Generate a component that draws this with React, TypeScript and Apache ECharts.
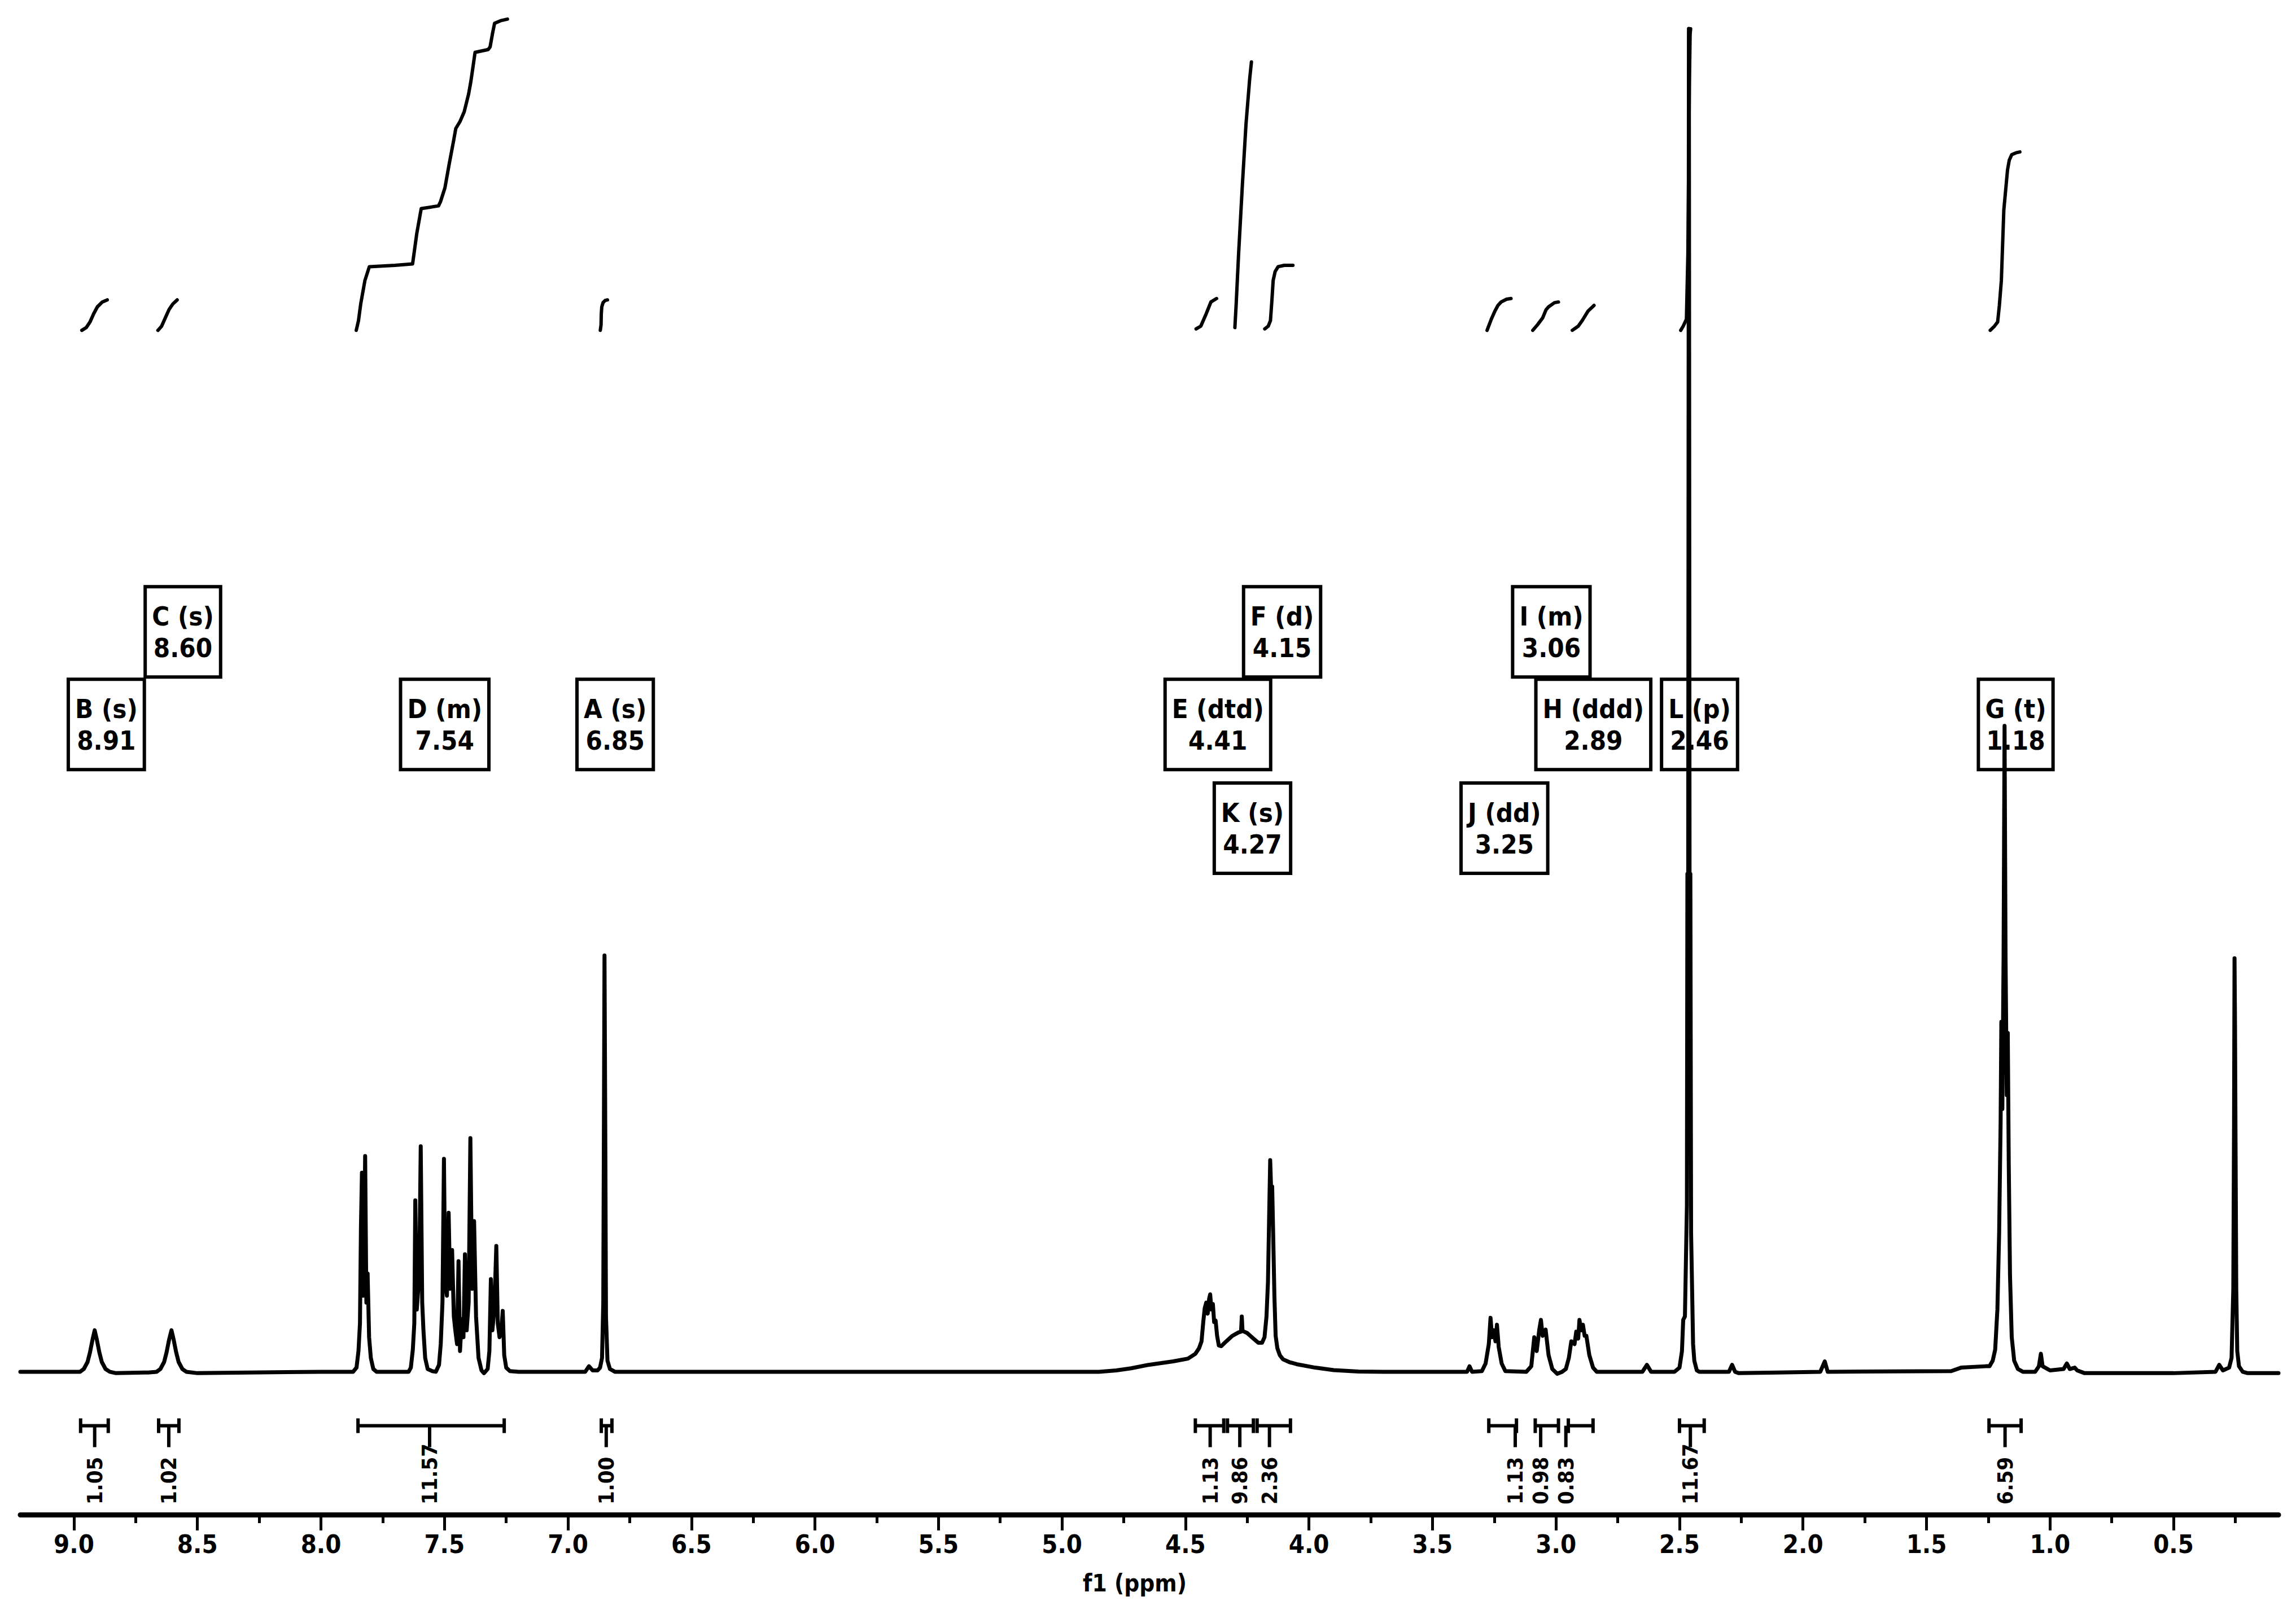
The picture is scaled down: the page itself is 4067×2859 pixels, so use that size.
import React, { useEffect, useRef } from 'react';
import * as echarts from 'echarts';

// ---------- axis ticks (ppm) ----------
const majorTicks = [9.0, 8.5, 8.0, 7.5, 7.0, 6.5, 6.0, 5.5, 5.0, 4.5, 4.0, 3.5, 3.0, 2.5, 2.0, 1.5, 1.0, 0.5];
const minorTicks = [8.75, 8.25, 7.75, 7.25, 6.75, 6.25, 5.75, 5.25, 4.75, 4.25, 3.75, 3.25, 2.75, 2.25, 1.75, 1.25, 0.75, 0.25];

// ---------- spectrum segments [ppm, intensity] ----------
const specLeft = [[9.217, 0], [9.0, 0]];
const specB = [[8.975, 0], [8.96, 0.2], [8.945, 0.7], [8.935, 1.4], [8.925, 2.3], [8.916, 3.0], [8.907, 2.3], [8.897, 1.4], [8.887, 0.7], [8.872, 0.2], [8.855, 0], [8.83, -0.1], [8.7, -0.05]];
const specC = [[8.665, 0], [8.65, 0.2], [8.635, 0.7], [8.625, 1.4], [8.615, 2.3], [8.605, 3.0], [8.596, 2.3], [8.586, 1.4], [8.576, 0.7], [8.561, 0.2], [8.545, 0], [8.5, -0.1], [8.0, 0], [7.88, 0]];
const specD1 = [[7.87, 0], [7.856, 0.3], [7.848, 1.5], [7.842, 3.5], [7.838, 10.5], [7.834, 14.4], [7.829, 5.5], [7.824, 11.0], [7.821, 15.6], [7.816, 5.0], [7.811, 7.1], [7.805, 2.5], [7.798, 1.0], [7.788, 0.2], [7.775, 0], [7.66, 0]];
const specD2 = [[7.645, 0], [7.636, 0.3], [7.628, 1.6], [7.622, 3.5], [7.618, 12.4], [7.612, 4.5], [7.606, 6.0], [7.6, 10.0], [7.596, 16.3], [7.59, 5.0], [7.585, 3.0], [7.578, 1.0], [7.568, 0.2], [7.55, 0.05], [7.535, 0]];
const specD3 = [[7.522, 0.5], [7.515, 2.0], [7.508, 5.0], [7.502, 15.4], [7.497, 6.5], [7.49, 5.5], [7.483, 11.5], [7.477, 6.0], [7.469, 8.8], [7.462, 4.0], [7.456, 3.0], [7.449, 2.0], [7.443, 8.0], [7.437, 1.5], [7.43, 3.8], [7.423, 2.5], [7.417, 8.5], [7.41, 3.0], [7.402, 5.0], [7.395, 16.9], [7.388, 6.0], [7.38, 10.9], [7.372, 4.0], [7.362, 1.0], [7.35, 0.1], [7.34, -0.1]];
const specD4 = [[7.325, 0.2], [7.318, 1.5], [7.312, 6.7], [7.306, 3.0], [7.298, 4.5], [7.29, 9.1], [7.284, 3.5], [7.277, 2.5], [7.27, 3.0], [7.264, 4.4], [7.258, 1.2], [7.25, 0.3], [7.235, 0.05], [7.2, 0], [6.93, 0], [6.915, 0.4], [6.9, 0.1], [6.88, 0.1]];
const specA = [[6.87, 0.3], [6.862, 1.0], [6.857, 5.0], [6.854, 20.0], [6.852, 30.1], [6.849, 18.0], [6.846, 4.0], [6.84, 0.8], [6.83, 0.2], [6.81, 0], [4.85, 0]];
const specEKF = [[4.78, 0.1], [4.72, 0.25], [4.65, 0.5], [4.55, 0.75], [4.49, 0.95], [4.46, 1.3], [4.445, 1.7], [4.435, 2.2], [4.428, 3.6], [4.422, 4.6], [4.416, 5.0], [4.41, 4.2], [4.404, 5.3], [4.4, 5.6], [4.395, 4.5], [4.389, 4.9], [4.384, 3.6], [4.378, 3.7], [4.372, 2.6], [4.365, 1.9], [4.355, 1.85], [4.335, 2.2], [4.31, 2.6], [4.285, 2.85], [4.275, 2.9], [4.272, 4.0], [4.269, 2.95], [4.25, 2.8], [4.225, 2.4], [4.205, 2.1], [4.19, 2.1], [4.18, 2.5], [4.172, 4.0], [4.166, 6.5], [4.16, 12.5], [4.157, 15.3], [4.153, 13.0], [4.149, 13.4], [4.145, 10.0], [4.14, 5.5], [4.135, 2.6], [4.128, 1.7], [4.118, 1.2], [4.105, 0.9], [4.08, 0.7], [4.05, 0.55], [3.975, 0.3], [3.9, 0.12], [3.8, 0.02], [3.7, 0]];
const specJIH = [[3.36, 0], [3.35, 0.4], [3.34, 0], [3.3, 0.05], [3.285, 0.6], [3.272, 2.0], [3.265, 3.9], [3.259, 2.5], [3.252, 3.0], [3.245, 2.2], [3.239, 3.4], [3.232, 1.8], [3.22, 0.6], [3.205, 0.05], [3.12, 0], [3.1, 0.4], [3.088, 2.5], [3.078, 1.5], [3.068, 3.0], [3.061, 3.75], [3.054, 2.6], [3.042, 3.05], [3.03, 1.2], [3.015, 0.2], [2.995, -0.15], [2.975, 0], [2.96, 0.2], [2.948, 1.0], [2.938, 2.2], [2.925, 2.0], [2.918, 2.9], [2.91, 2.4], [2.905, 3.75], [2.898, 3.0], [2.891, 3.4], [2.884, 2.6], [2.877, 2.6], [2.865, 1.2], [2.85, 0.3], [2.835, 0], [2.65, 0], [2.632, 0.5], [2.615, 0], [2.53, 0]];
const specL = [[2.52, 0], [2.5, 0.3], [2.49, 1.5], [2.485, 3.75], [2.478, 4.0], [2.474, 8.0], [2.47, 12.0], [2.468, 36.0], [2.465, 30.0], [2.462, 97.1], [2.459, 30.0], [2.456, 36.0], [2.453, 10.0], [2.449, 6.0], [2.445, 2.0], [2.44, 0.8], [2.43, 0.1], [2.42, 0], [2.3, 0], [2.287, 0.5], [2.275, 0], [2.26, -0.1], [2.1, -0.05], [1.93, 0], [1.912, 0.75], [1.9, 0], [1.4, 0.05], [1.36, 0.3], [1.26, 0.4]];
const specG = [[1.245, 0.4], [1.232, 0.8], [1.222, 1.6], [1.213, 4.5], [1.206, 10.0], [1.2, 18.0], [1.197, 25.3], [1.193, 19.0], [1.188, 30.0], [1.184, 46.7], [1.18, 30.0], [1.175, 20.0], [1.171, 24.5], [1.167, 15.0], [1.162, 7.0], [1.155, 2.5], [1.145, 0.8], [1.13, 0.2], [1.11, 0], [1.06, 0], [1.045, 0.4], [1.037, 1.3], [1.03, 0.4], [1.0, 0.1], [0.945, 0.2], [0.932, 0.6], [0.92, 0.2], [0.9, 0.3], [0.89, 0.1], [0.86, -0.1], [0.5, -0.1], [0.33, 0], [0.315, 0.5], [0.3, 0.1], [0.275, 0.3]];
const specTMS = [[0.265, 1.0], [0.258, 6.0], [0.255, 18.0], [0.253, 29.9], [0.251, 25.0], [0.249, 17.0], [0.246, 6.0], [0.242, 1.5], [0.235, 0.4], [0.22, 0], [0.2, -0.1], [0.075, -0.1]];

// ---------- integral curves [ppm, level] ----------
const intB = [[8.968, 75.3], [8.95, 75.5], [8.935, 75.9], [8.92, 76.5], [8.905, 77.0], [8.885, 77.35], [8.865, 77.5]];
const intC = [[8.66, 75.3], [8.645, 75.6], [8.63, 76.2], [8.615, 76.8], [8.6, 77.2], [8.582, 77.5]];
const intD = [[7.857, 75.3], [7.848, 76.0], [7.839, 77.2], [7.822, 78.9], [7.804, 79.9], [7.7, 80.0], [7.629, 80.1], [7.622, 81.0], [7.612, 82.3], [7.594, 84.1], [7.524, 84.3], [7.516, 84.6], [7.498, 85.6], [7.481, 87.3], [7.463, 89.0], [7.454, 89.9], [7.437, 90.4], [7.42, 91.1], [7.402, 92.4], [7.393, 93.3], [7.384, 94.4], [7.376, 95.4], [7.323, 95.6], [7.315, 95.8], [7.305, 96.8], [7.297, 97.5], [7.27, 97.7], [7.245, 97.8]];
const intA = [[6.869, 75.3], [6.866, 75.7], [6.865, 76.5], [6.863, 77.0], [6.858, 77.3], [6.85, 77.45], [6.84, 77.5]];
const intE = [[4.457, 75.4], [4.438, 75.6], [4.416, 76.5], [4.397, 77.35], [4.374, 77.6]];
const intK = [[4.3, 75.5], [4.295, 77.1], [4.285, 80.8], [4.27, 85.7], [4.255, 90.2], [4.24, 93.5], [4.233, 94.7]];
const intF = [[4.179, 75.4], [4.165, 75.6], [4.156, 76.0], [4.15, 77.5], [4.145, 78.9], [4.137, 79.55], [4.125, 79.9], [4.1, 80.0], [4.065, 80.0]];
const intJ = [[3.279, 75.3], [3.262, 76.1], [3.247, 76.7], [3.235, 77.1], [3.222, 77.35], [3.2, 77.55], [3.182, 77.6]];
const intI = [[3.094, 75.3], [3.075, 75.7], [3.054, 76.2], [3.04, 76.8], [3.03, 77.0], [3.006, 77.3], [2.99, 77.35]];
const intH = [[2.934, 75.3], [2.91, 75.6], [2.894, 76.0], [2.87, 76.7], [2.846, 77.1]];
const intL = [[2.495, 75.3], [2.485, 75.6], [2.472, 76.1], [2.466, 80.8], [2.463, 86.9], [2.46, 93.1], [2.457, 96.7], [2.455, 97.1]];
const intG = [[1.242, 75.3], [1.225, 75.6], [1.212, 75.9], [1.205, 77.1], [1.197, 78.9], [1.187, 84.0], [1.172, 86.9], [1.165, 87.6], [1.155, 88.0], [1.135, 88.15], [1.122, 88.2]];

// ---------- integration brackets: [from ppm, to ppm, label ppm] ----------
const integralRanges = [
  [8.973, 8.861, 8.916], [8.657, 8.575, 8.616], [7.85, 7.258, 7.56], [6.865, 6.822, 6.845],
  [4.46, 4.345, 4.4], [4.33, 4.225, 4.28], [4.21, 4.075, 4.16],
  [3.272, 3.16, 3.165], [3.084, 2.99, 3.062], [2.95, 2.85, 2.96],
  [2.5, 2.4, 2.456], [1.247, 1.117, 1.182],
];
const integralValues = ['1.05', '1.02', '11.57', '1.00', '1.13', '9.86', '2.36', '1.13', '0.98', '0.83', '11.67', '6.59'];

// ---------- multiplet labels ----------
const labelNames = ['B', 'C', 'D', 'A', 'E', 'F', 'K', 'J', 'I', 'H', 'L', 'G'];
const labelMult = ['s', 's', 'm', 's', 'dtd', 'd', 's', 'dd', 'm', 'ddd', 'p', 't'];
const labelShift = [8.91, 8.6, 7.54, 6.85, 4.41, 4.15, 4.27, 3.25, 3.06, 2.89, 2.46, 1.18];
// layout only: which row each label box sits in
const labelRow = [1, 0, 1, 1, 1, 0, 2, 2, 0, 1, 1, 1];
const ROW_Y = [53.5, 46.8, 39.3];

const FONT = '"DejaVu Sans Condensed", "Liberation Sans Narrow", "DejaVu Sans", sans-serif';
const BRACKET_Y = -3.9;
const INT_LABEL_Y = -9.6;

const spectrum = [...specLeft, ...specB, ...specC, ...specD1, ...specD2, ...specD3, ...specD4, ...specA, ...specEKF, ...specJIH, ...specL, ...specG, ...specTMS];
const integrals = [intB, intC, intD, intA, intE, intK, intF, intJ, intI, intH, intL, intG];

function buildOption() {
  const series: any[] = [];
  series.push({
    type: 'custom',
    z: 1,
    silent: true,
    data: labelShift.map((v) => [v]),
    renderItem: (params: any, api: any) => {
      const i = params.dataIndex;
      const p = api.coord([api.value(0), ROW_Y[labelRow[i]]]);
      return {
        type: 'text',
        x: p[0] + 18,
        y: p[1],
        style: {
          text: `${labelNames[i]} (${labelMult[i]})\n${labelShift[i].toFixed(2)}`,
          font: `bold 47px ${FONT}`,
          fill: '#000',
          align: 'center',
          verticalAlign: 'middle',
          lineHeight: 56,
          padding: [24, 12, 24, 12],
          borderColor: '#000',
          borderWidth: 6,
        },
      };
    },
  });
  integrals.forEach((curve) => {
    series.push({
      type: 'line',
      z: 2,
      silent: true,
      data: curve,
      showSymbol: false,
      symbol: 'none',
      lineStyle: { color: '#000', width: 6, join: 'round', cap: 'round' },
    });
  });
  series.push({
    type: 'custom',
    z: 2,
    silent: true,
    data: integralRanges,
    renderItem: (params: any, api: any) => {
      const s = api.coord([api.value(0), BRACKET_Y]);
      const e = api.coord([api.value(1), BRACKET_Y]);
      const m = api.coord([api.value(2), BRACKET_Y]);
      const lb = api.coord([api.value(2), INT_LABEL_Y]);
      const y = s[1];
      const ls = { stroke: '#000', lineWidth: 6 };
      return {
        type: 'group',
        children: [
          { type: 'line', shape: { x1: s[0], y1: y, x2: e[0], y2: y }, style: ls },
          { type: 'line', shape: { x1: s[0], y1: y - 13, x2: s[0], y2: y + 13 }, style: ls },
          { type: 'line', shape: { x1: e[0], y1: y - 13, x2: e[0], y2: y + 13 }, style: ls },
          { type: 'line', shape: { x1: m[0], y1: y, x2: m[0], y2: y + 38 }, style: ls },
          {
            type: 'text',
            x: lb[0],
            y: lb[1],
            rotation: Math.PI / 2,
            style: {
              text: integralValues[params.dataIndex],
              font: `bold 38px ${FONT}`,
              fill: '#000',
              align: 'left',
              verticalAlign: 'middle',
            },
          },
        ],
      };
    },
  });
  series.push({
    type: 'line',
    z: 3,
    silent: true,
    data: spectrum,
    showSymbol: false,
    symbol: 'none',
    lineStyle: { color: '#000', width: 7, join: 'round', cap: 'round' },
  });

  return {
    animation: false,
    backgroundColor: '#fff',
    grid: { left: 36, right: 31, top: 4.5, bottom: 176 },
    xAxis: [
      {
        type: 'value',
        min: 0.075,
        max: 9.217,
        inverse: true,
        position: 'bottom',
        axisLine: { show: true, onZero: false, lineStyle: { color: '#000', width: 9 } },
        axisTick: { show: true, customValues: majorTicks, length: 28, lineStyle: { color: '#000', width: 5 } },
        axisLabel: {
          show: true,
          customValues: majorTicks,
          formatter: (v: number) => v.toFixed(1),
          color: '#000',
          fontSize: 45,
          fontWeight: 'bold',
          fontFamily: FONT,
          margin: 30,
        },
        splitLine: { show: false },
        name: 'f1 (ppm)',
        nameLocation: 'middle',
        nameGap: 100,
        nameTextStyle: { color: '#000', fontSize: 42, fontWeight: 'bold', fontFamily: FONT, padding: [0, 52, 0, 0] },
      },
      {
        type: 'value',
        min: 0.075,
        max: 9.217,
        inverse: true,
        position: 'bottom',
        axisLine: { show: false, onZero: false },
        axisTick: { show: true, customValues: minorTicks, length: 15, lineStyle: { color: '#000', width: 5 } },
        axisLabel: { show: false, customValues: minorTicks },
        splitLine: { show: false },
      },
    ],
    yAxis: { type: 'value', min: -10.33, max: 99, show: false },
    series,
  };
}

export default function App() {
  const ref = useRef<HTMLDivElement>(null);
  useEffect(() => {
    document.body.style.margin = '0';
    const chart = echarts.init(ref.current as HTMLDivElement, null, { renderer: 'svg' });
    chart.setOption(buildOption() as any);
    return () => chart.dispose();
  }, []);
  return <div ref={ref} style={{ width: 4067, height: 2859, background: '#fff' }} />;
}
